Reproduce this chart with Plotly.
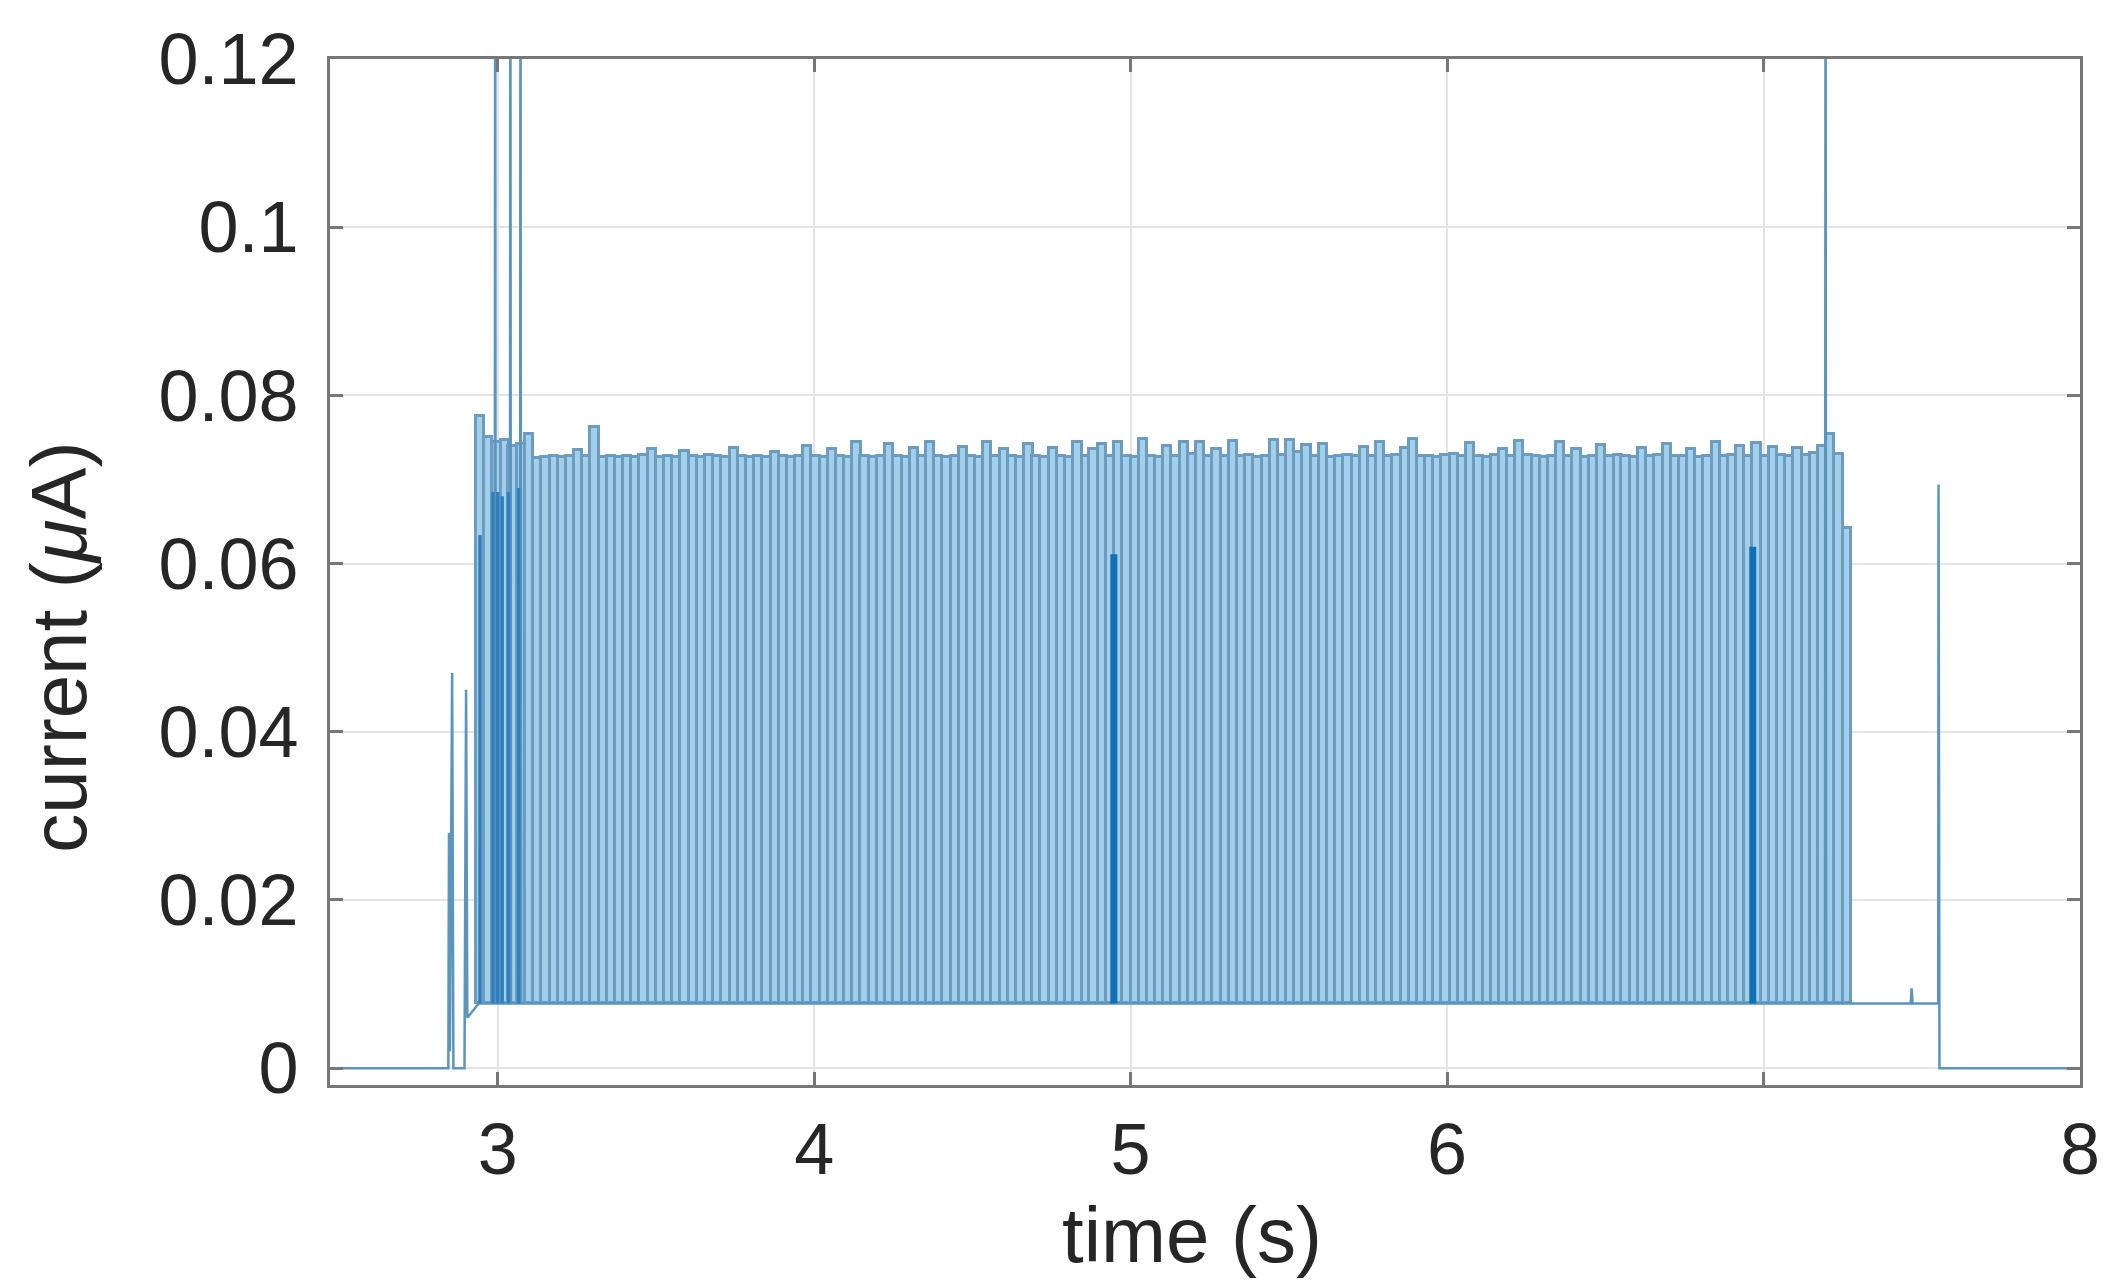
import plotly.graph_objects as go

# ---------------- data ----------------
# regular spike train: spike times (s) and peak currents (uA)
spike_times = [
    2.944, 2.970, 2.996, 3.022, 3.047, 3.073, 3.099, 3.125, 3.151, 3.177,
    3.203, 3.228, 3.254, 3.280, 3.306, 3.332, 3.358, 3.384, 3.409, 3.435,
    3.461, 3.487, 3.513, 3.539, 3.565, 3.590, 3.616, 3.642, 3.668, 3.694,
    3.720, 3.746, 3.772, 3.797, 3.823, 3.849, 3.875, 3.901, 3.927, 3.953,
    3.978, 4.004, 4.030, 4.056, 4.082, 4.108, 4.134, 4.159, 4.185, 4.211,
    4.237, 4.263, 4.289, 4.315, 4.340, 4.366, 4.392, 4.418, 4.444, 4.470,
    4.496, 4.521, 4.547, 4.573, 4.599, 4.625, 4.651, 4.677, 4.702, 4.728,
    4.754, 4.780, 4.806, 4.832, 4.858, 4.883, 4.909, 4.935, 4.961, 4.987,
    5.013, 5.039, 5.065, 5.090, 5.116, 5.142, 5.168, 5.194, 5.220, 5.246,
    5.271, 5.297, 5.323, 5.349, 5.375, 5.401, 5.427, 5.452, 5.478, 5.504,
    5.530, 5.556, 5.582, 5.608, 5.633, 5.659, 5.685, 5.711, 5.737, 5.763,
    5.789, 5.814, 5.840, 5.866, 5.892, 5.918, 5.944, 5.970, 5.995, 6.021,
    6.047, 6.073, 6.099, 6.125, 6.151, 6.176, 6.202, 6.228, 6.254, 6.280,
    6.306, 6.332, 6.358, 6.383, 6.409, 6.435, 6.461, 6.487, 6.513, 6.539,
    6.564, 6.590, 6.616, 6.642, 6.668, 6.694, 6.720, 6.745, 6.771, 6.797,
    6.823, 6.849, 6.875, 6.901, 6.926, 6.952, 6.978, 7.004, 7.030, 7.056,
    7.082, 7.107, 7.133, 7.159, 7.185, 7.211, 7.237, 7.263,
]
spike_peaks = [
    0.0776, 0.0750, 0.0745, 0.0747, 0.0740, 0.0742, 0.0754, 0.0726, 0.0727, 0.0728,
    0.0727, 0.0728, 0.0735, 0.0728, 0.0762, 0.0727, 0.0728, 0.0727, 0.0728, 0.0727,
    0.0729, 0.0736, 0.0727, 0.0728, 0.0727, 0.0734, 0.0728, 0.0727, 0.0729, 0.0728,
    0.0727, 0.0738, 0.0728, 0.0727, 0.0728, 0.0727, 0.0733, 0.0728, 0.0727, 0.0728,
    0.0740, 0.0728, 0.0727, 0.0736, 0.0728, 0.0727, 0.0744, 0.0728, 0.0727, 0.0728,
    0.0742, 0.0728, 0.0727, 0.0737, 0.0728, 0.0745, 0.0728, 0.0727, 0.0728, 0.0739,
    0.0728, 0.0727, 0.0744, 0.0728, 0.0736, 0.0728, 0.0727, 0.0742, 0.0728, 0.0727,
    0.0737, 0.0728, 0.0727, 0.0744, 0.0728, 0.0736, 0.0742, 0.0728, 0.0745, 0.0728,
    0.0727, 0.0748, 0.0728, 0.0727, 0.0740, 0.0728, 0.0744, 0.0730, 0.0745, 0.0728,
    0.0736, 0.0728, 0.0746, 0.0728, 0.0729, 0.0727, 0.0728, 0.0747, 0.0729, 0.0747,
    0.0733, 0.0741, 0.0728, 0.0742, 0.0727, 0.0728, 0.0729, 0.0728, 0.0739, 0.0728,
    0.0744, 0.0728, 0.0729, 0.0737, 0.0748, 0.0728, 0.0728, 0.0727, 0.0729, 0.0730,
    0.0728, 0.0743, 0.0728, 0.0727, 0.0729, 0.0736, 0.0728, 0.0746, 0.0729, 0.0728,
    0.0727, 0.0728, 0.0744, 0.0728, 0.0736, 0.0727, 0.0728, 0.0741, 0.0728, 0.0729,
    0.0728, 0.0727, 0.0737, 0.0728, 0.0729, 0.0742, 0.0728, 0.0728, 0.0736, 0.0727,
    0.0728, 0.0744, 0.0728, 0.0729, 0.0740, 0.0728, 0.0743, 0.0728, 0.0739, 0.0729,
    0.0728, 0.0738, 0.0729, 0.0732, 0.0740, 0.0754, 0.0730, 0.0642,
]
baseline_current = 0.0077

# raw trace outside / between the regular spikes (time s, current uA)
raw_time = [
    2.466, 2.844, 2.846, 2.849, 2.856, 2.860, 2.895, 2.900, 2.904, 2.930, 2.940,
    2.990, 2.992, 2.994, 3.038, 3.040, 3.042, 3.070, 3.072, 3.074,
    7.194, 7.196, 7.198, 7.465, 7.468, 7.471, 7.552, 7.553, 7.556, 8.0,
]
raw_current = [
    0.0, 0.0, 0.028, 0.002, 0.047, 0.0, 0.0, 0.045, 0.006, 0.0072, 0.0077,
    0.0077, 0.14, 0.0077, 0.0077, 0.14, 0.0077, 0.0077, 0.14, 0.0077,
    0.0077, 0.14, 0.0077, 0.0077, 0.0095, 0.0077, 0.0077, 0.0694, 0.0, 0.0,
]

# overlapping (darker) spikes: early burst and two isolated ones
early_dark_time = [2.944, 2.985, 3.000, 3.014, 3.034, 3.066]
early_dark_peak = [0.0634, 0.0685, 0.0685, 0.0680, 0.0685, 0.0690]
late_dark_time = [4.947, 6.966]
late_dark_peak = [0.0611, 0.0620]

x_ticks = [3, 4, 5, 6, 7, 8]
x_tick_text = ["3", "4", "5", "6", "", "8"]
y_ticks = [0, 0.02, 0.04, 0.06, 0.08, 0.1, 0.12]
y_tick_text = ["0", "0.02", "0.04", "0.06", "0.08", "0.1", "0.12"]

# ---------------- figure ----------------
period = spike_times[1] - spike_times[0]
fig = go.Figure()

fig.add_trace(go.Bar(
    x=spike_times,
    y=[p - baseline_current for p in spike_peaks],
    base=[baseline_current] * len(spike_times),
    width=period,
    marker=dict(color="#a2cfe9", line=dict(color="#6c9cbf", width=3)),
    showlegend=False, hoverinfo="skip",
))

fig.add_trace(go.Scatter(
    x=raw_time, y=raw_current, mode="lines",
    line=dict(color="#5b94bd", width=2.5),
    showlegend=False, hoverinfo="skip",
))


def spike_segments(times, peaks):
    xs, ys = [], []
    for t, p in zip(times, peaks):
        xs += [t, t, None]
        ys += [baseline_current, p, None]
    return xs, ys


ex, ey = spike_segments(early_dark_time, early_dark_peak)
fig.add_trace(go.Scatter(
    x=ex, y=ey, mode="lines",
    line=dict(color="#2f80bd", width=3.5),
    showlegend=False, hoverinfo="skip",
))
lx, ly = spike_segments(late_dark_time, late_dark_peak)
fig.add_trace(go.Scatter(
    x=lx, y=ly, mode="lines",
    line=dict(color="#1070b4", width=7),
    showlegend=False, hoverinfo="skip",
))

axis_col = "#777777"
grid_col = "#e4e4e4"
font_col = "#262626"

fig.update_layout(
    width=2110, height=1288,
    margin=dict(l=322, r=38, t=51, b=211),
    paper_bgcolor="white", plot_bgcolor="white",
    bargap=0,
    font=dict(family="Liberation Sans, Arial, sans-serif", color=font_col),
    xaxis=dict(
        range=[2.47, 8.0], tickvals=x_ticks, ticktext=x_tick_text,
        showgrid=True, gridcolor=grid_col, gridwidth=2, zeroline=False,
        showline=True, linecolor=axis_col, linewidth=3, mirror="ticks",
        ticks="inside", ticklen=13, tickwidth=3, tickcolor=axis_col,
        tickfont=dict(size=72, color=font_col), ticklabelstandoff=0,
    ),
    yaxis=dict(
        range=[-0.002, 0.12], tickvals=y_ticks, ticktext=y_tick_text,
        showgrid=True, gridcolor=grid_col, gridwidth=2, zeroline=False,
        showline=True, linecolor=axis_col, linewidth=3, mirror="ticks",
        ticks="inside", ticklen=13, tickwidth=3, tickcolor=axis_col,
        tickfont=dict(size=72, color=font_col), ticklabelstandoff=14,
    ),
    annotations=[
        dict(text="time (s)", xref="paper", yref="paper", x=0.4926, y=-0.146,
             showarrow=False, xanchor="center", yanchor="middle",
             font=dict(size=78, color=font_col)),
        dict(text="current (<i>μ</i>A)", xref="paper", yref="paper", x=-0.155, y=0.427,
             showarrow=False, xanchor="center", yanchor="middle", textangle=-90,
             font=dict(size=78, color=font_col)),
    ],
)

fig.write_html("out.html")
